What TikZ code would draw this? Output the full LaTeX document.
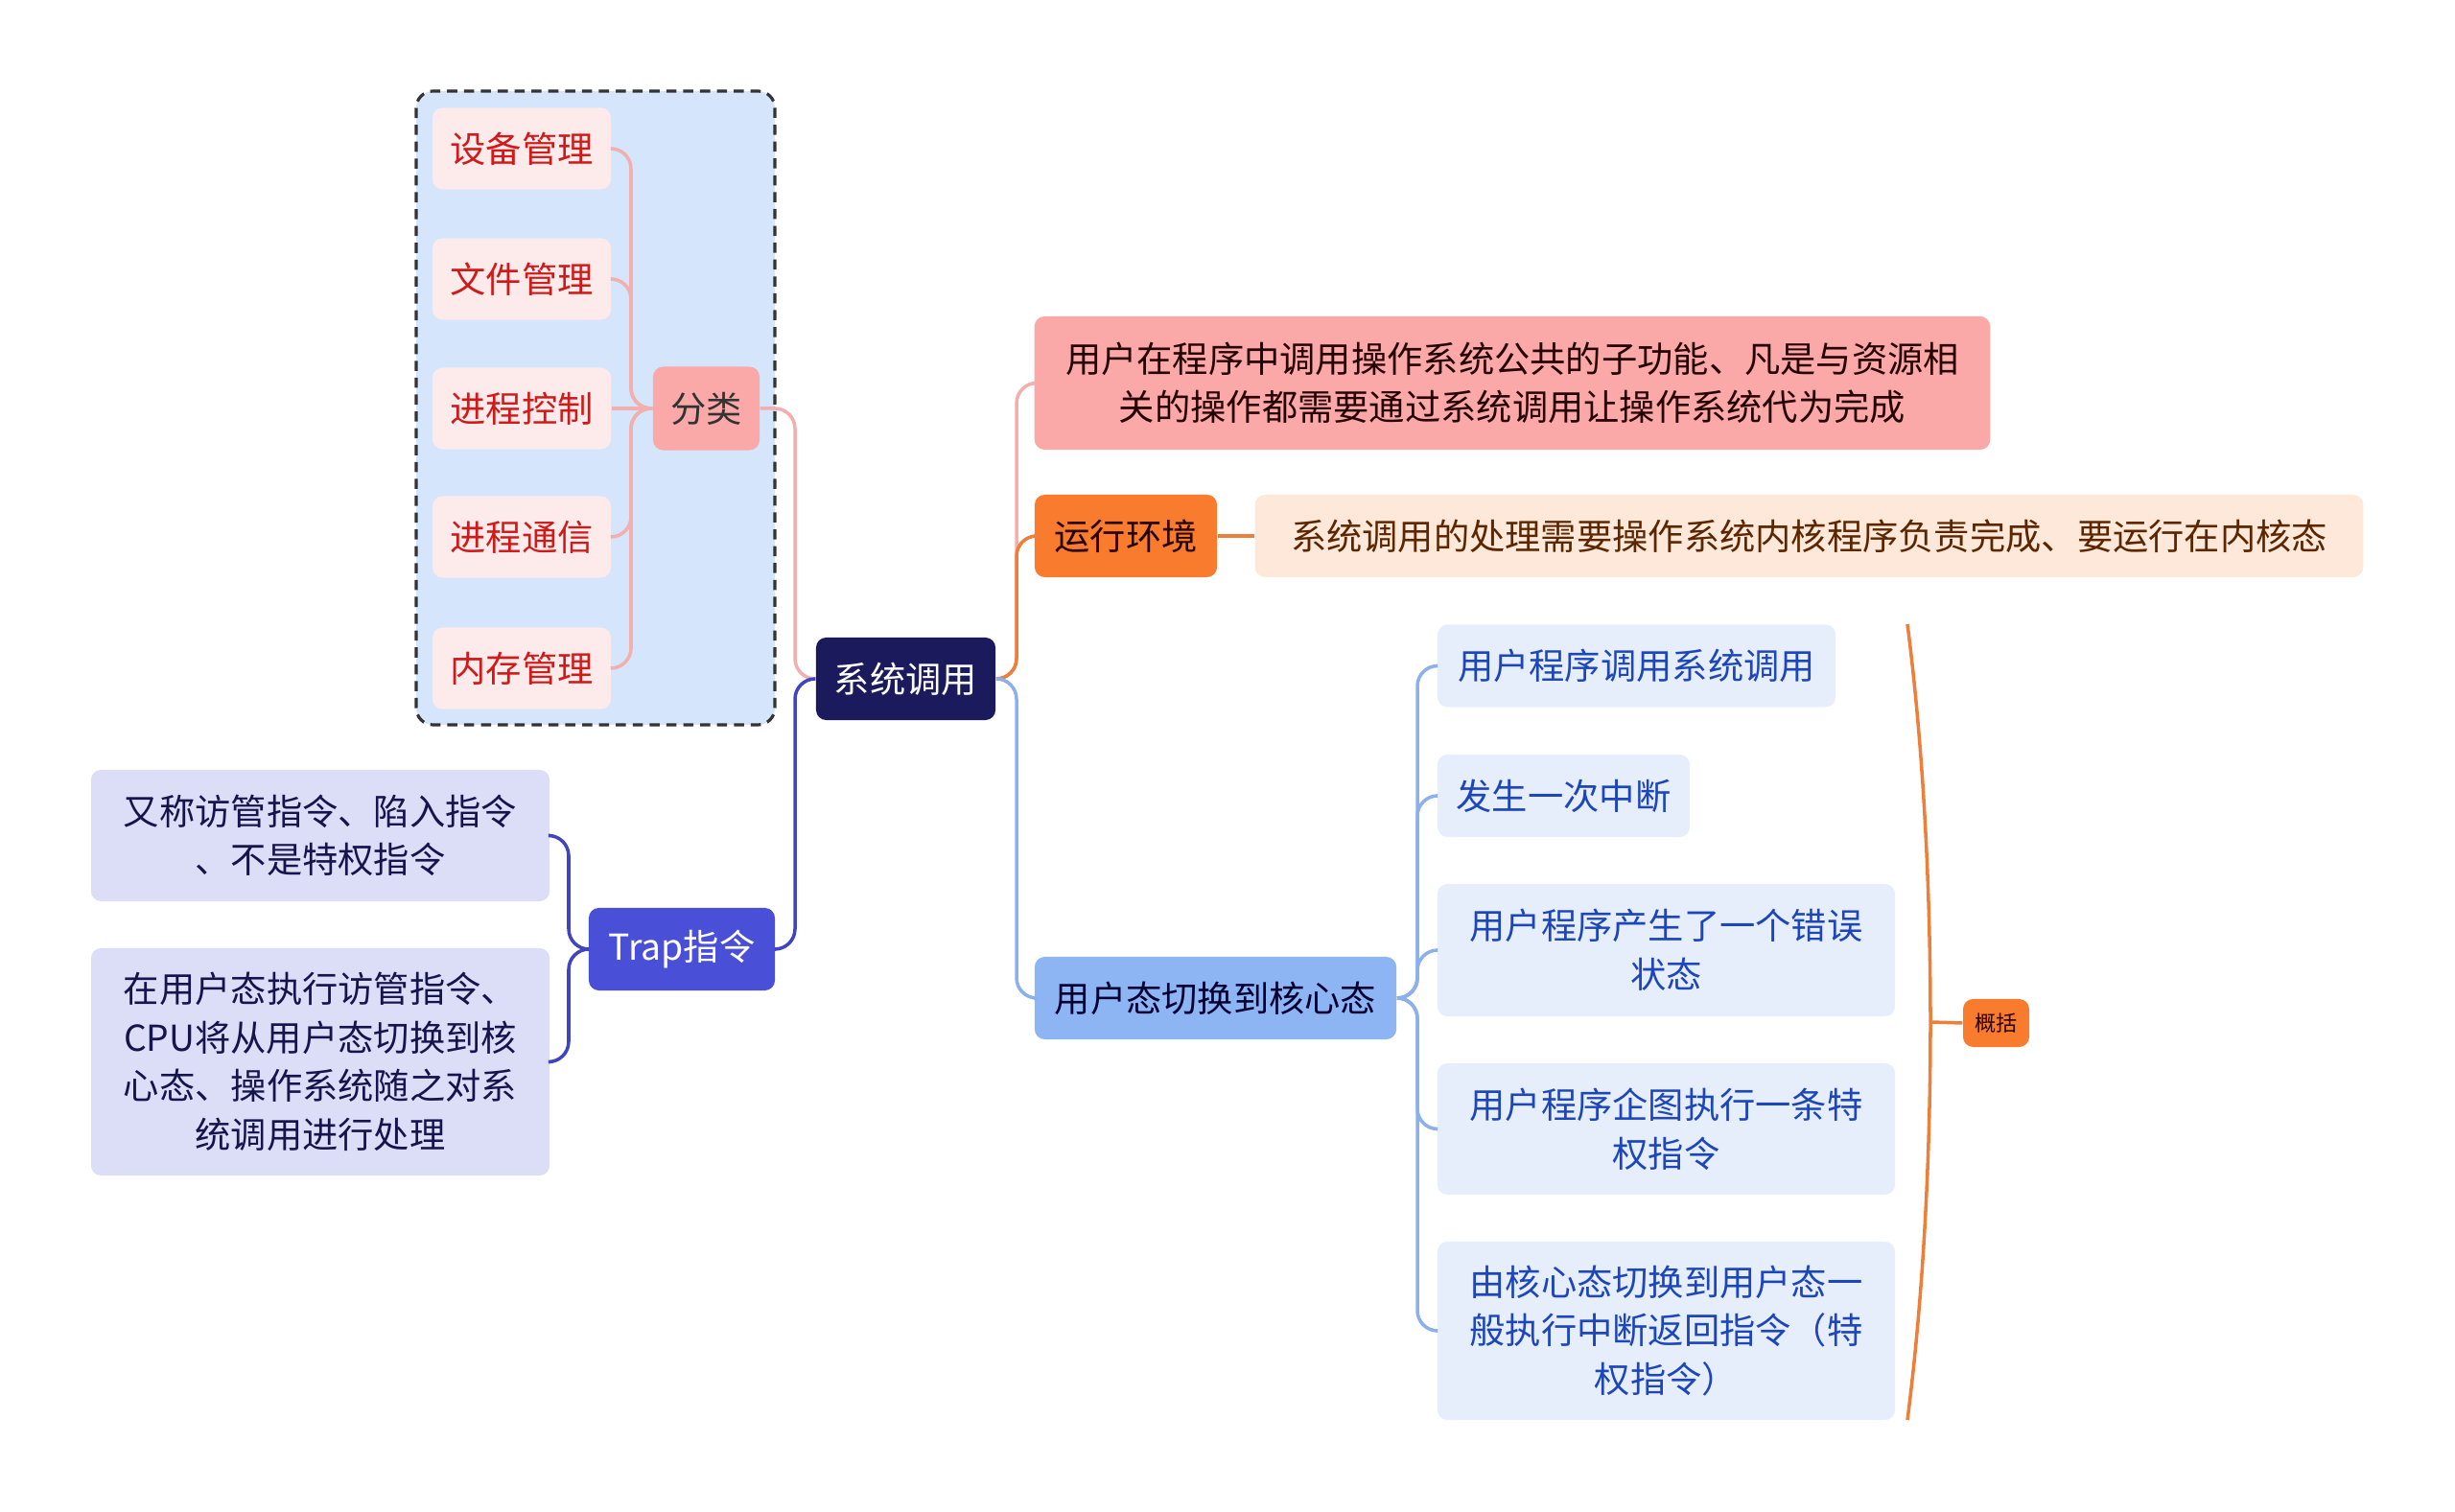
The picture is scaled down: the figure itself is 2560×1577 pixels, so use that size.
\documentclass[tikz,border=0pt]{standalone}
\usepackage{fontspec}
\setmainfont{Noto Sans CJK SC}
\usepackage{xcolor}

\definecolor{groupfill}{HTML}{D5E5FB}
\definecolor{leaffill}{HTML}{FDEBEB}
\definecolor{leaftext}{HTML}{D01A1A}
\definecolor{pinkfill}{HTML}{FAA8A8}
\definecolor{pinkline}{HTML}{F3AEAE}
\definecolor{rootfill}{HTML}{1B1A5C}
\definecolor{trapfill}{HTML}{4A4FD8}
\definecolor{trapline}{HTML}{3F45C0}
\definecolor{trapsub}{HTML}{DCDDF7}
\definecolor{trapsubtext}{HTML}{16144D}
\definecolor{envfill}{HTML}{F97C2E}
\definecolor{envline}{HTML}{EE7F3B}
\definecolor{envsub}{HTML}{FDE8DA}
\definecolor{envsubtext}{HTML}{5C2600}
\definecolor{swfill}{HTML}{8EB5F3}
\definecolor{swline}{HTML}{8CB0EA}
\definecolor{swsub}{HTML}{E6EEFC}
\definecolor{swsubtext}{HTML}{1D46BA}

\newcommand\boxfont{\fontsize{10.6}{14.4}\selectfont}
\newcommand\tinyfont{\fontsize{6.3}{8}\selectfont}

\begin{document}
\begin{tikzpicture}[x=0.01cm, y=-0.01cm,
  box/.style={rounded corners=3pt, align=center, inner sep=0pt, font=\boxfont},
  leaf/.style={box, fill=leaffill, text=leaftext, minimum width=1.86cm, minimum height=0.85cm},
  trapitem/.style={box, fill=trapsub, text=trapsubtext, minimum width=4.78cm},
  switem/.style={box, fill=swsub, text=swsubtext, minimum height=0.86cm},
  link/.style={line width=1pt, rounded corners=6pt}]

  \useasboundingbox (0,0) rectangle (2560,1577);

  % frame round the classification group
  \draw[fill=groupfill, draw=black!80, dashed, dash pattern=on 3pt off 2pt,
        line width=0.9pt, rounded corners=5pt] (434,95) rectangle (808,756);

  % root
  \node[box, fill=rootfill, text=white, minimum width=1.87cm, minimum height=0.86cm] (sys) at (944.5,708) {系统调用};

  % left side
  \node[box, fill=pinkfill, text=black!80, minimum width=1.11cm, minimum height=0.87cm] (cls) at (736.5,426) {分类};
  \node[box, fill=trapfill, text=white, minimum width=1.94cm, minimum height=0.86cm] (trap) at (711,990) {Trap指令};
  \coordinate (lj) at (829,708);
  \draw[link, pinkline] (sys.west) -- (lj) |- (cls.east);
  \draw[link, trapline] (sys.west) -- (lj) |- (trap.east);

  \coordinate (cj) at (658,426);
  \foreach \name/\yy/\txt in {dev/155/设备管理, file/291/文件管理, proc/426/进程控制, ipc/560/进程通信, mem/697/内存管理} {
    \node[leaf] (\name) at (544,\yy) {\txt};
  }
  \foreach \name in {dev, file, ipc, mem} {
    \draw[link, pinkline] (cls.west) -- (cj) |- (\name.east);
  }
  \draw[link, pinkline] (cls.west) -- (proc.east);

  \node[trapitem, minimum height=1.37cm] (t1) at (334,871.5) {又称访管指令、陷入指令\\、不是特权指令};
  \node[trapitem, minimum height=2.37cm] (t2) at (334,1107.5) {在用户态执行访管指令、\\CPU将从用户态切换到核\\心态、操作系统随之对系\\统调用进行处理};
  \coordinate (tj) at (593,990);
  \draw[link, trapline] (trap.west) -- (tj) |- (t1.east);
  \draw[link, trapline] (trap.west) -- (tj) |- (t2.east);

  % right side
  \node[box, fill=pinkfill, text=black!85!red, minimum width=9.96cm, minimum height=1.39cm] (def) at (1577,399.5)
    {用户在程序中调用操作系统公共的子功能、凡是与资源相\\关的操作都需要通过系统调用让操作系统代为完成};
  \node[box, fill=envfill, text=black!85!red, minimum width=1.90cm, minimum height=0.86cm] (env) at (1174,559) {运行环境};
  \node[box, fill=envsub, text=envsubtext, minimum width=11.55cm, minimum height=0.86cm] (envd) at (1886.5,559)
    {系统调用的处理需要操作系统内核程序负责完成、要运行在内核态};
  \node[box, fill=swfill, text=black!80!blue, minimum width=3.77cm, minimum height=0.86cm] (sw) at (1267.5,1041) {用户态切换到核心态};
  \coordinate (rj) at (1060,708);
  \draw[link, pinkline] (sys.east) -- (rj) |- (def.west);
  \draw[link, envline] (sys.east) -- (rj) |- (env.west);
  \draw[link, swline] (sys.east) -- (rj) |- (sw.west);
  \draw[link, envline] (env.east) -- (envd.west);

  \node[switem, minimum width=4.15cm] (s1) at (1706.5,694.5) {用户程序调用系统调用};
  \node[switem, minimum width=2.63cm] (s2) at (1630.5,830) {发生一次中断};
  \node[switem, minimum width=4.77cm, minimum height=1.38cm] (s3) at (1737.5,991) {用户程序产生了一个错误\\状态};
  \node[switem, minimum width=4.77cm, minimum height=1.37cm] (s4) at (1737.5,1177.5) {用户程序企图执行一条特\\权指令};
  \node[switem, minimum width=4.77cm, minimum height=1.86cm] (s5) at (1737.5,1388) {由核心态切换到用户态一\\般执行中断返回指令（特\\权指令）};
  \coordinate (sj) at (1478,1041);
  \foreach \name in {s1, s2, s3, s4, s5} {
    \draw[link, swline] (sw.east) -- (sj) |- (\name.west);
  }

  % summary brace
  \coordinate (bt) at (1989,651);
  \coordinate (bb) at (1989,1481);
  \coordinate (bm) at (2013,1066);
  \draw[envline, line width=1pt] (bt) .. controls (2021,900) and (2021,1232) .. (bb);
  \node[box, fill=envfill, text=black!85!red, font=\tinyfont, minimum width=0.69cm, minimum height=0.50cm] (sum) at (2081.5,1067) {概括};
  \draw[envline, line width=1pt] (bm) -- (sum.west);
\end{tikzpicture}
\end{document}
